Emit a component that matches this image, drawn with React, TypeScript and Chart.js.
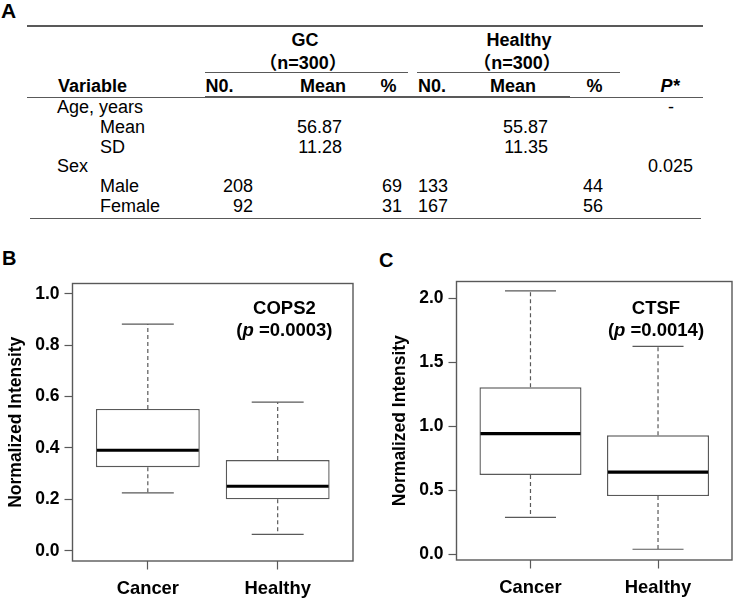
import React, { useEffect, useRef } from "react";
import { Chart, registerables } from "chart.js";

Chart.register(...registerables);

// ---------- Panel A: table data ----------
const groupNames = ["GC", "Healthy"];
const groupSizes = ["（n=300）", "（n=300）"];
const columnHeaders = ["Variable", "N0.", "Mean", "%", "N0.", "Mean", "%", "P*"];
const rowLabels = ["Age, years", "Mean", "SD", "Sex", "Male", "Female"];
const rowIndented = [false, true, true, false, true, true];
const gcNumbers = ["", "", "", "", "208", "92"];
const gcMeans = ["", "56.87", "11.28", "", "", ""];
const gcPercents = ["", "", "", "", "69", "31"];
const healthyNumbers = ["", "", "", "", "133", "167"];
const healthyMeans = ["", "55.87", "11.35", "", "", ""];
const healthyPercents = ["", "", "", "", "44", "56"];
const pValues = ["-", "", "", "0.025", "", ""];

// ---------- Panels B and C: box plot data ----------
const boxCategories = ["Cancer", "Healthy"];

const cops2Min = [0.225, 0.064];
const cops2Q1 = [0.325, 0.2];
const cops2Median = [0.391, 0.251];
const cops2Q3 = [0.552, 0.353];
const cops2Max = [0.882, 0.578];
const cops2Ticks = [0, 0.2, 0.4, 0.6, 0.8, 1.0];

const ctsfMin = [0.289, 0.039];
const ctsfQ1 = [0.62, 0.455];
const ctsfMedian = [0.943, 0.643];
const ctsfQ3 = [1.306, 0.93];
const ctsfMax = [2.059, 1.626];
const ctsfTicks = [0, 0.5, 1.0, 1.5, 2.0];

const FONT = '"Liberation Sans", Arial, "Noto Sans CJK SC", sans-serif';
const LINE = "#595959";

type TxtProps = {
  x: number;
  y: number;
  text: string;
  size?: number;
  bold?: boolean;
  italic?: boolean;
  align?: "left" | "center" | "right";
};

function Txt({ x, y, text, size = 18, bold = false, italic = false, align = "left" }: TxtProps) {
  const L = Math.round(size * 1.25);
  const baseline = (L - 1.117 * size) / 2 + 0.905 * size;
  const top = y - (baseline - 0.358 * size);
  const tx = align === "left" ? "0" : align === "center" ? "-50%" : "-100%";
  return (
    <span
      style={{
        position: "absolute",
        left: x,
        top,
        fontSize: size,
        lineHeight: `${L}px`,
        fontWeight: bold ? 700 : 400,
        fontStyle: italic ? "italic" : "normal",
        transform: `translateX(${tx})`,
        whiteSpace: "nowrap",
        color: "#000",
      }}
    >
      {text}
    </span>
  );
}

function HLine({ x1, x2, y, h = 1.5 }: { x1: number; x2: number; y: number; h?: number }) {
  return (
    <div
      style={{
        position: "absolute",
        left: x1,
        top: y - h / 2,
        width: x2 - x1,
        height: h,
        background: LINE,
      }}
    />
  );
}

function TablePanel() {
  const rowY = (i: number) => 107 + i * 19.9;
  const valueCols: { values: string[]; x: number; align: "left" | "center" | "right" }[] = [
    { values: gcNumbers, x: 253, align: "right" },
    { values: gcMeans, x: 342, align: "right" },
    { values: gcPercents, x: 402, align: "right" },
    { values: healthyNumbers, x: 418, align: "left" },
    { values: healthyMeans, x: 548, align: "right" },
    { values: healthyPercents, x: 603, align: "right" },
  ];
  const headerPos: { x: number; align: "left" | "center" | "right"; italic?: boolean }[] = [
    { x: 58, align: "left" },
    { x: 205.5, align: "left" },
    { x: 323, align: "center" },
    { x: 388.5, align: "center" },
    { x: 418, align: "left" },
    { x: 513, align: "center" },
    { x: 594.5, align: "center" },
    { x: 670, align: "center", italic: true },
  ];
  const groupX = [305, 519];
  return (
    <>
      <Txt x={1} y={10.5} text="A" size={21} bold />
      <HLine x1={27} x2={703} y={26} />
      {groupNames.map((g, i) => (
        <React.Fragment key={g}>
          <Txt x={groupX[i]} y={40.7} text={g} bold align="center" />
          <Txt x={groupX[i] - 2} y={63} text={groupSizes[i]} bold align="center" />
        </React.Fragment>
      ))}
      <HLine x1={205} x2={408} y={72.7} h={1.2} />
      <HLine x1={417} x2={620} y={72.7} h={1.2} />
      {columnHeaders.map((h, i) => (
        <Txt
          key={i}
          x={headerPos[i].x}
          y={86.3}
          text={h}
          bold
          italic={headerPos[i].italic}
          align={headerPos[i].align}
        />
      ))}
      <HLine x1={27} x2={703} y={97.3} h={1.3} />
      <HLine x1={205} x2={570} y={97.3} h={2.4} />
      {rowLabels.map((r, i) => (
        <Txt key={r + i} x={rowIndented[i] ? 100 : 57} y={rowY(i)} text={r} />
      ))}
      {valueCols.map((c, ci) =>
        c.values.map((v, i) =>
          v ? <Txt key={`${ci}-${i}`} x={c.x} y={rowY(i)} text={v} align={c.align} /> : null
        )
      )}
      {pValues.map((v, i) =>
        v ? (
          <Txt key={`p-${i}`} x={v === "-" ? 671 : 693} y={rowY(i)} text={v} align={v === "-" ? "center" : "right"} />
        ) : null
      )}
      <HLine x1={30} x2={701} y={218.3} />
    </>
  );
}

type BoxChartProps = {
  mins: number[];
  q1s: number[];
  medians: number[];
  q3s: number[];
  maxs: number[];
  yTicks: number[];
  yMin: number;
  yMax: number;
  gene: string;
  pText: string;
  annX: number;
  annY1: number;
  annY2: number;
  left: number;
  top: number;
  width: number;
  height: number;
  padTop: number;
  padRight: number;
  yAxisWidth: number;
  xAxisHeight: number;
  titlePad: number;
};

function BoxChart(props: BoxChartProps) {
  const ref = useRef<HTMLCanvasElement | null>(null);
  useEffect(() => {
    const canvas = ref.current;
    if (!canvas) return;
    const p = props;
    const boxPlugin = {
      id: "boxWhiskers",
      afterDatasetsDraw(chart: any) {
        const { ctx, chartArea } = chart;
        const x = chart.scales.x;
        const y = chart.scales.y;
        const meta = chart.getDatasetMeta(0);
        ctx.save();
        meta.data.forEach((bar: any, i: number) => {
          const { width } = bar.getProps(["width"], true);
          const cx = x.getPixelForValue(i + 1);
          const half = width / 2;
          const cap = width / 4;
          ctx.strokeStyle = LINE;
          ctx.lineWidth = 1.2;
          ctx.setLineDash([4, 3]);
          ctx.beginPath();
          ctx.moveTo(cx, y.getPixelForValue(p.q3s[i]));
          ctx.lineTo(cx, y.getPixelForValue(p.maxs[i]));
          ctx.moveTo(cx, y.getPixelForValue(p.q1s[i]));
          ctx.lineTo(cx, y.getPixelForValue(p.mins[i]));
          ctx.stroke();
          ctx.setLineDash([]);
          ctx.beginPath();
          ctx.moveTo(cx - cap, y.getPixelForValue(p.maxs[i]));
          ctx.lineTo(cx + cap, y.getPixelForValue(p.maxs[i]));
          ctx.moveTo(cx - cap, y.getPixelForValue(p.mins[i]));
          ctx.lineTo(cx + cap, y.getPixelForValue(p.mins[i]));
          ctx.stroke();
          ctx.strokeStyle = "#000";
          ctx.lineWidth = 3.2;
          ctx.beginPath();
          ctx.moveTo(cx - half + 1, y.getPixelForValue(p.medians[i]));
          ctx.lineTo(cx + half - 1, y.getPixelForValue(p.medians[i]));
          ctx.stroke();
        });
        ctx.strokeStyle = LINE;
        ctx.lineWidth = 1.4;
        ctx.strokeRect(
          chartArea.left,
          chartArea.top,
          chartArea.right - chartArea.left,
          chartArea.bottom - chartArea.top
        );
        const size = 18.5;
        const ax = x.getPixelForValue(p.annX);
        const ay1 = y.getPixelForValue(p.annY1) + 0.358 * size;
        const ay2 = y.getPixelForValue(p.annY2) + 0.358 * size;
        ctx.fillStyle = "#000";
        ctx.textBaseline = "alphabetic";
        ctx.textAlign = "center";
        ctx.font = `bold ${size}px ${FONT}`;
        ctx.fillText(p.gene, ax, ay1);
        const parts = [
          { t: "(", f: `bold ${size}px ${FONT}` },
          { t: "p", f: `italic bold ${size}px ${FONT}` },
          { t: " =" + p.pText + ")", f: `bold ${size}px ${FONT}` },
        ];
        ctx.textAlign = "left";
        let total = 0;
        const widths = parts.map((pt) => {
          ctx.font = pt.f;
          const w = ctx.measureText(pt.t).width;
          total += w;
          return w;
        });
        let cur = ax - total / 2;
        parts.forEach((pt, k) => {
          ctx.font = pt.f;
          ctx.fillText(pt.t, cur, ay2);
          cur += widths[k];
        });
        ctx.restore();
      },
    };

    const chart = new Chart(canvas, {
      type: "bar",
      data: {
        datasets: [
          {
            data: boxCategories.map((_, i) => ({ x: i + 1, y: [p.q1s[i], p.q3s[i]] })) as any,
            backgroundColor: "#ffffff",
            borderColor: LINE,
            borderWidth: 1.4,
            borderSkipped: false,
            barPercentage: 0.8,
            categoryPercentage: 1,
          },
        ],
      },
      options: {
        animation: false,
        responsive: false,
        maintainAspectRatio: false,
        devicePixelRatio: 1,
        layout: { padding: { top: p.padTop, right: p.padRight, left: 0, bottom: 0 } },
        plugins: { legend: { display: false }, tooltip: { enabled: false } },
        scales: {
          x: {
            type: "linear",
            min: 0.42,
            max: 2.58,
            offset: false,
            grid: {
              offset: false,
              drawOnChartArea: false,
              drawTicks: true,
              tickLength: 8.5,
              tickColor: LINE,
              tickWidth: 1.2,
              color: LINE,
            },
            border: { display: false },
            ticks: {
              autoSkip: false,
              maxRotation: 0,
              padding: 8,
              color: "#000",
              font: { family: FONT, size: 18.4, weight: "bold" },
              callback: (v: any) => boxCategories[Number(v) - 1] ?? "",
            },
            afterBuildTicks: (s: any) => {
              s.ticks = boxCategories.map((_, i) => ({ value: i + 1 }));
            },
            afterFit: (s: any) => {
              s.height = p.xAxisHeight;
            },
          },
          y: {
            type: "linear",
            min: p.yMin,
            max: p.yMax,
            grid: {
              drawOnChartArea: false,
              drawTicks: true,
              tickLength: 8,
              tickColor: LINE,
              tickWidth: 1.2,
              color: LINE,
            },
            border: { display: false },
            ticks: {
              padding: 5,
              color: "#000",
              font: { family: FONT, size: 17.5, weight: "bold" },
              callback: (v: any) => Number(v).toFixed(1),
            },
            afterBuildTicks: (s: any) => {
              s.ticks = p.yTicks.map((v) => ({ value: v }));
            },
            afterFit: (s: any) => {
              s.width = p.yAxisWidth;
            },
            title: {
              display: true,
              text: "Normalized Intensity",
              color: "#000",
              font: { family: FONT, size: 17.5, weight: "bold" },
              padding: { top: p.titlePad, bottom: 0 },
            },
          },
        },
      } as any,
      plugins: [boxPlugin],
    });
    return () => chart.destroy();
  }, []);

  return (
    <div style={{ position: "absolute", left: props.left, top: props.top, width: props.width, height: props.height }}>
      <canvas ref={ref} width={props.width} height={props.height} style={{ width: props.width, height: props.height, display: "block" }} />
    </div>
  );
}

export default function App() {
  return (
    <div
      style={{
        position: "fixed",
        left: 0,
        top: 0,
        width: 733,
        height: 599,
        background: "#fff",
        overflow: "hidden",
        fontFamily: FONT,
      }}
    >
      <TablePanel />
      <Txt x={2} y={258.5} text="B" size={20} bold />
      <Txt x={379} y={260} text="C" size={20} bold />
      <BoxChart
        mins={cops2Min}
        q1s={cops2Q1}
        medians={cops2Median}
        q3s={cops2Q3}
        maxs={cops2Max}
        yTicks={cops2Ticks}
        yMin={-0.04}
        yMax={1.04}
        gene="COPS2"
        pText="0.0003"
        annX={2.052}
        annY1={0.947}
        annY2={0.862}
        left={0}
        top={230}
        width={366}
        height={369}
        padTop={53.5}
        padRight={13}
        yAxisWidth={72.5}
        xAxisHeight={38}
        titlePad={6}
      />
      <BoxChart
        mins={ctsfMin}
        q1s={ctsfQ1}
        medians={ctsfMedian}
        q3s={ctsfQ3}
        maxs={ctsfMax}
        yTicks={ctsfTicks}
        yMin={-0.045}
        yMax={2.133}
        gene="CTSF"
        pText="0.0014"
        annX={1.984}
        annY1={1.931}
        annY2={1.759}
        left={366}
        top={230}
        width={367}
        height={369}
        padTop={51.5}
        padRight={1}
        yAxisWidth={90.5}
        xAxisHeight={39}
        titlePad={23.5}
      />
    </div>
  );
}
